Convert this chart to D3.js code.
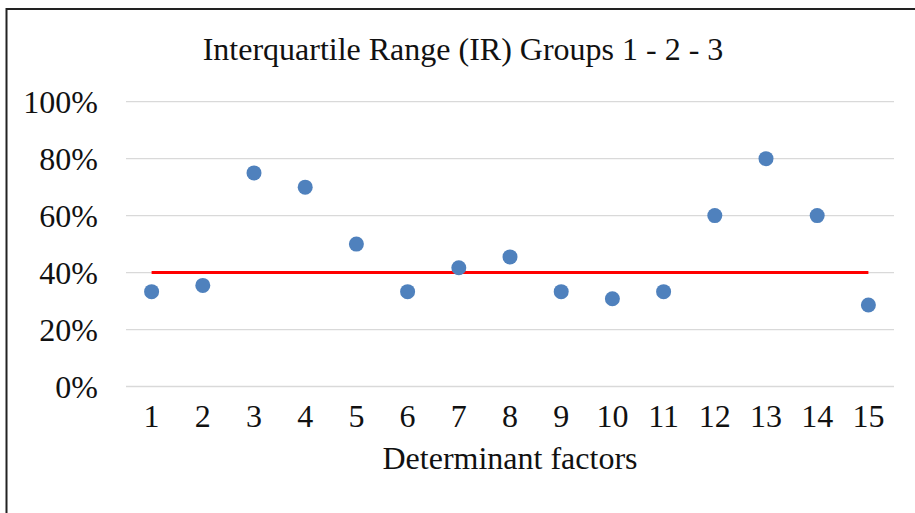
<!DOCTYPE html>
<html>
<head>
<meta charset="utf-8">
<script src="https://cdn.jsdelivr.net/npm/d3@7"></script>
<style>
  body { margin: 0; background: #fff; }
  svg { display: block; font-family: "Liberation Serif", "Times New Roman", serif; }
</style>
</head>
<body>
<svg id="chart" width="915" height="513"></svg>
<script>
// data
const factors = ["1","2","3","4","5","6","7","8","9","10","11","12","13","14","15"];
const irValues = [33.3, 35.5, 75, 70, 50, 33.3, 41.7, 45.5, 33.3, 30.8, 33.3, 60, 80, 60, 28.6];
const threshold = 40;
const yTicks = [0, 20, 40, 60, 80, 100];

const svg = d3.select("#chart");

// chart frame (clipped at right and bottom in the source)
svg.append("rect")
    .attr("x", 6.5)
    .attr("y", 9)
    .attr("width", 940)
    .attr("height", 540)
    .attr("fill", "none")
    .attr("stroke", "#222")
    .attr("stroke-width", 2);

const x = d3.scaleBand().domain(factors).range([126, 894]);
const y = d3.scaleLinear().domain([0, 100]).range([386.5, 101.7]);

// gridlines
svg.append("g")
    .selectAll("line")
    .data(yTicks)
    .join("line")
    .attr("x1", 126)
    .attr("x2", 894)
    .attr("y1", d => y(d))
    .attr("y2", d => y(d))
    .attr("stroke", "#d9d9d9")
    .attr("stroke-width", 1.3);

// y axis labels
const yAxis = d3.axisLeft(y).tickValues(yTicks).tickFormat(d => d + "%").tickSize(0).tickPadding(0);
svg.append("g")
    .attr("transform", "translate(98,0)")
    .call(yAxis)
    .call(g => g.select(".domain").remove())
    .selectAll("text")
    .attr("font-family", "Liberation Serif")
    .attr("font-size", 32)
    .attr("fill", "#111")
    .attr("dy", "0.34em");

// x axis labels
const xAxis = d3.axisBottom(x).tickSize(0).tickPadding(0);
svg.append("g")
    .attr("transform", "translate(0,427)")
    .call(xAxis)
    .call(g => g.select(".domain").remove())
    .selectAll("text")
    .attr("font-family", "Liberation Serif")
    .attr("font-size", 32)
    .attr("fill", "#111")
    .attr("dy", "0");

// threshold line
svg.append("line")
    .attr("x1", x(factors[0]) + x.bandwidth() / 2)
    .attr("x2", x(factors[factors.length - 1]) + x.bandwidth() / 2)
    .attr("y1", y(threshold))
    .attr("y2", y(threshold))
    .attr("stroke", "#ff0000")
    .attr("stroke-width", 3);

// points
svg.append("g")
    .selectAll("circle")
    .data(irValues)
    .join("circle")
    .attr("cx", (d, i) => x(factors[i]) + x.bandwidth() / 2)
    .attr("cy", d => y(d))
    .attr("r", 7.5)
    .attr("fill", "#4f81bd");

// titles
svg.append("text")
    .attr("x", 463)
    .attr("y", 60)
    .attr("text-anchor", "middle")
    .attr("font-size", 32)
    .attr("fill", "#111")
    .text("Interquartile Range (IR) Groups 1 - 2 - 3");

svg.append("text")
    .attr("x", 510)
    .attr("y", 469)
    .attr("text-anchor", "middle")
    .attr("font-size", 32)
    .attr("fill", "#111")
    .text("Determinant factors");
</script>
</body>
</html>
